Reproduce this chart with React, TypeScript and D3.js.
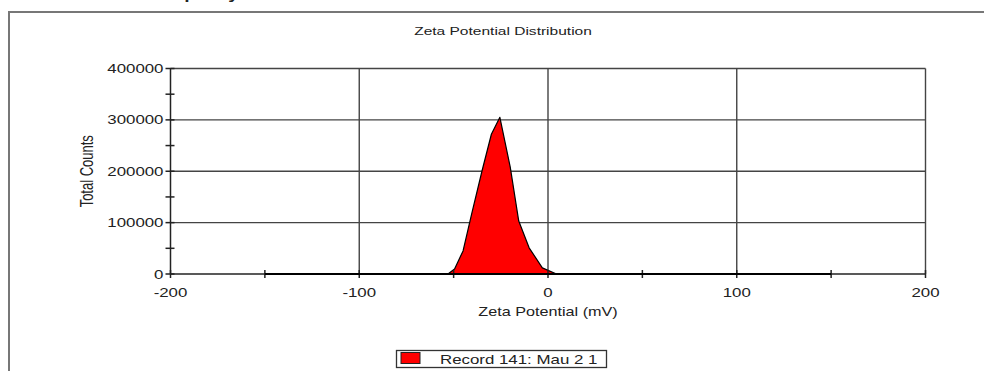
import React, { useRef, useEffect } from 'react';
import * as d3 from 'd3';

// zeta potential (mV) vs total counts
const zeta = [-150, -53, -49.5, -45, -40.5, -35, -30, -25.5, -20, -15.5, -10, -3, 4.5, 150];
const counts = [0, 0, 9800, 45000, 116000, 200000, 272000, 305000, 208000, 103000, 51000, 12000, 0, 0];

const xTicks = [-200, -100, 0, 100, 200];
const xMinor = [-150, -50, 50, 150];
const yTicks = [0, 100000, 200000, 300000, 400000];
const yMinor = [50000, 150000, 250000, 350000];

const title = 'Zeta Potential Distribution';
const topNote = 'Result quality : Good';
const xLabel = 'Zeta Potential (mV)';
const yLabel = 'Total Counts';
const legendLabel = 'Record 141: Mau 2 1';

const W = 984, H = 371;
const SX = 1.35; // the picture is stretched sideways

const App = () => {
  const ref = useRef(null);

  useEffect(() => {
    const svg = d3.select(ref.current);
    svg.selectAll('*').remove();

    const x = d3.scaleLinear().domain([-200, 200]).range([170.5, 925.5]);
    const y = d3.scaleLinear().domain([0, 400000]).range([274, 68.5]);

    const font = '"Liberation Sans", Arial, sans-serif';

    const txt = (g, s, px, py, size, anchor = 'middle', weight = 'normal') =>
      g.append('text')
        .attr('transform', `translate(${px},${py}) scale(${SX},1)`)
        .attr('text-anchor', anchor)
        .attr('font-family', font)
        .attr('font-size', size)
        .attr('font-weight', weight)
        .attr('fill', '#222')
        .text(s);

    // outer frame (only top and left visible)
    svg.append('line').attr('x1', 9).attr('x2', W).attr('y1', 12).attr('y2', 12)
      .attr('stroke', '#777').attr('stroke-width', 2);
    svg.append('line').attr('x1', 9).attr('x2', 9).attr('y1', 11).attr('y2', H)
      .attr('stroke', '#777').attr('stroke-width', 2);

    // heading cut off at the very top, as in the picture
    txt(svg, topNote, 115, -1.5, 14, 'start', 'bold');

    txt(svg, title, 503, 35, 11.5, 'middle');

    // grid
    const grid = svg.append('g').attr('stroke', '#444').attr('stroke-width', 1.4);
    grid.selectAll('.gx').data(xTicks.slice(1)).join('line')
      .attr('x1', d => x(d)).attr('x2', d => x(d))
      .attr('y1', y(400000)).attr('y2', y(0));
    grid.selectAll('.gy').data(yTicks.slice(1)).join('line')
      .attr('x1', x(-200)).attr('x2', x(200))
      .attr('y1', d => y(d)).attr('y2', d => y(d));

    // distribution
    const area = d3.area()
      .x((d, i) => x(zeta[i]))
      .y0(y(0))
      .y1((d, i) => y(counts[i]));
    svg.append('path')
      .datum(counts)
      .attr('d', area)
      .attr('fill', '#ff0000')
      .attr('stroke', '#000')
      .attr('stroke-width', 1.2)
      .attr('stroke-linejoin', 'round');

    // axes
    const ax = svg.append('g').attr('stroke', '#222').attr('stroke-width', 1.5);
    ax.append('line').attr('x1', x(-200)).attr('x2', x(200)).attr('y1', y(0)).attr('y2', y(0));
    ax.append('line').attr('x1', x(-200)).attr('x2', x(-200)).attr('y1', y(0)).attr('y2', y(400000));
    // thicker data baseline
    svg.append('line').attr('x1', x(-150)).attr('x2', x(150)).attr('y1', y(0)).attr('y2', y(0))
      .attr('stroke', '#000').attr('stroke-width', 2.2);

    ax.selectAll('.tx').data(xTicks.concat(xMinor)).join('line')
      .attr('x1', d => x(d)).attr('x2', d => x(d))
      .attr('y1', y(0) - 4).attr('y2', y(0) + 4);
    ax.selectAll('.ty').data(yTicks.concat(yMinor)).join('line')
      .attr('x1', x(-200) - 5).attr('x2', x(-200) + 4)
      .attr('y1', d => y(d)).attr('y2', d => y(d));

    xTicks.forEach(t => txt(svg, String(t), x(t), y(0) + 23, 12.5, 'middle'));
    yTicks.forEach(t => txt(svg, String(t), x(-200) - 7, y(t) + 4.5, 12.5, 'end'));

    txt(svg, xLabel, x(0), 316, 12, 'middle');

    svg.append('text')
      .attr('transform', `translate(93,${y(200000)}) rotate(-90) scale(1,${SX})`)
      .attr('text-anchor', 'middle')
      .attr('font-family', font)
      .attr('font-size', 13)
      .attr('fill', '#222')
      .text(yLabel);

    // legend
    const lg = svg.append('g');
    lg.append('rect').attr('x', 396.5).attr('y', 350.5).attr('width', 210).attr('height', 17)
      .attr('fill', '#fff').attr('stroke', '#333').attr('stroke-width', 1.3);
    lg.append('rect').attr('x', 401).attr('y', 352.5).attr('width', 19).attr('height', 11)
      .attr('fill', '#ff0000').attr('stroke', '#222').attr('stroke-width', 1);
    txt(lg, legendLabel, 440, 364, 12.5, 'start');
  }, []);

  return (
    <svg ref={ref} width={W} height={H}
      style={{ position: 'absolute', left: 0, top: 0, background: '#fff' }} />
  );
};

export default App;
